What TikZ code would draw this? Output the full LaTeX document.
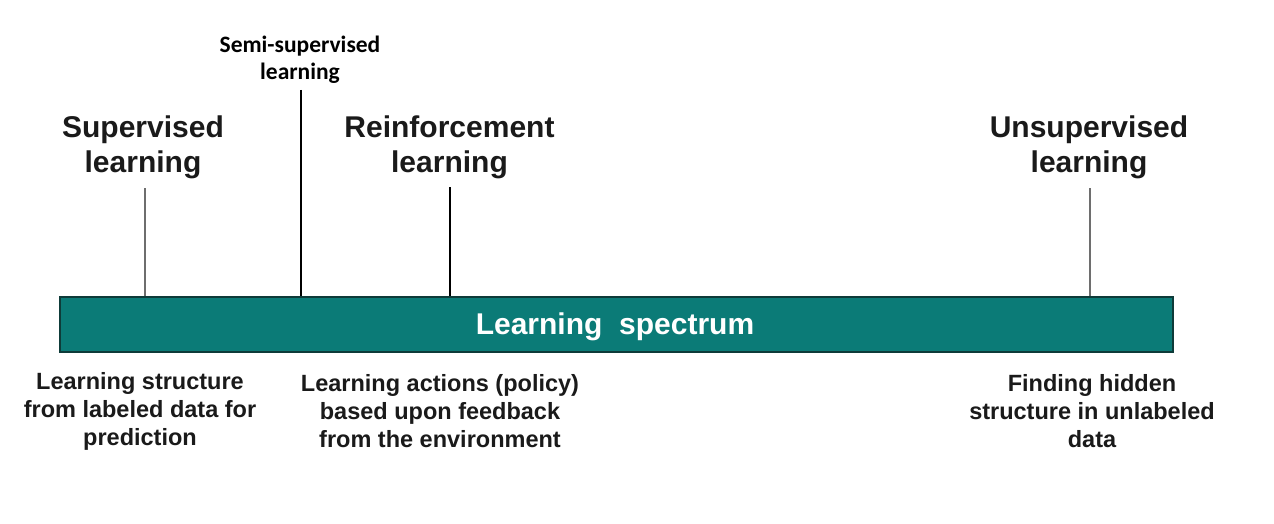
\documentclass[tikz,border=0pt]{standalone}
\usepackage{fontspec}
\setmainfont{Liberation Sans}
\newfontfamily\calfont{Carlito}
\definecolor{barteal}{HTML}{0B7B77}
\definecolor{bardark}{HTML}{0E3B39}
\definecolor{txt}{HTML}{1A1A1A}
\definecolor{tickgray}{HTML}{6E6E6E}
\tikzset{
  heading/.style={align=center, text=txt, font=\bfseries\fontsize{30}{35}\selectfont, inner sep=0pt},
  semilabel/.style={align=center, text=black, font=\calfont\bfseries\fontsize{23.5}{27}\selectfont, inner sep=0pt},
  desc/.style={align=center, text=txt, font=\bfseries\fontsize{23.5}{28}\selectfont, inner sep=0pt},
  spectrumbar/.style={rectangle, draw=bardark, line width=2pt, fill=barteal, text=white,
     font=\bfseries\fontsize{30}{32}\selectfont, minimum width=1113pt, minimum height=55pt, inner sep=0pt},
  graytick/.style={draw=tickgray, line width=2.5pt},
  blacktick/.style={draw=black, line width=2.2pt},
}
\begin{document}
\begin{tikzpicture}[x=1pt,y=-1pt]
\useasboundingbox[fill=white] (0,0) rectangle (1274,524);
\node[spectrumbar] (bar) at (616.5,324.5) {};
\node[text=white, font=\bfseries\fontsize{30}{32}\selectfont, inner sep=0pt] (spec) at (615,327) {Learning\ \ spectrum};
\node[heading] (sup) at (143,147.5) {Supervised\\learning};
\node[semilabel] (semi) at (300,59.5) {Semi-supervised\\learning};
\node[heading] (rein) at (449.5,147.5) {Reinforcement\\learning};
\node[heading] (unsup) at (1089,147.5) {Unsupervised\\learning};
\node[desc] (d1) at (140,411) {Learning structure\\from labeled data for\\prediction};
\node[desc] (d2) at (440,411) {Learning actions (policy)\\based upon feedback\\from the environment};
\node[desc] (d3) at (1092,411) {Finding hidden\\structure in unlabeled\\data};
\coordinate (t1) at (145,188);
\coordinate (t2) at (301,90);
\coordinate (t3) at (450,187);
\coordinate (t4) at (1090,188);
\draw[graytick] (t1) -- (t1 |- bar.north);
\draw[blacktick] (t2) -- (t2 |- bar.north);
\draw[blacktick] (t3) -- (t3 |- bar.north);
\draw[graytick] (t4) -- (t4 |- bar.north);
\end{tikzpicture}
\end{document}
